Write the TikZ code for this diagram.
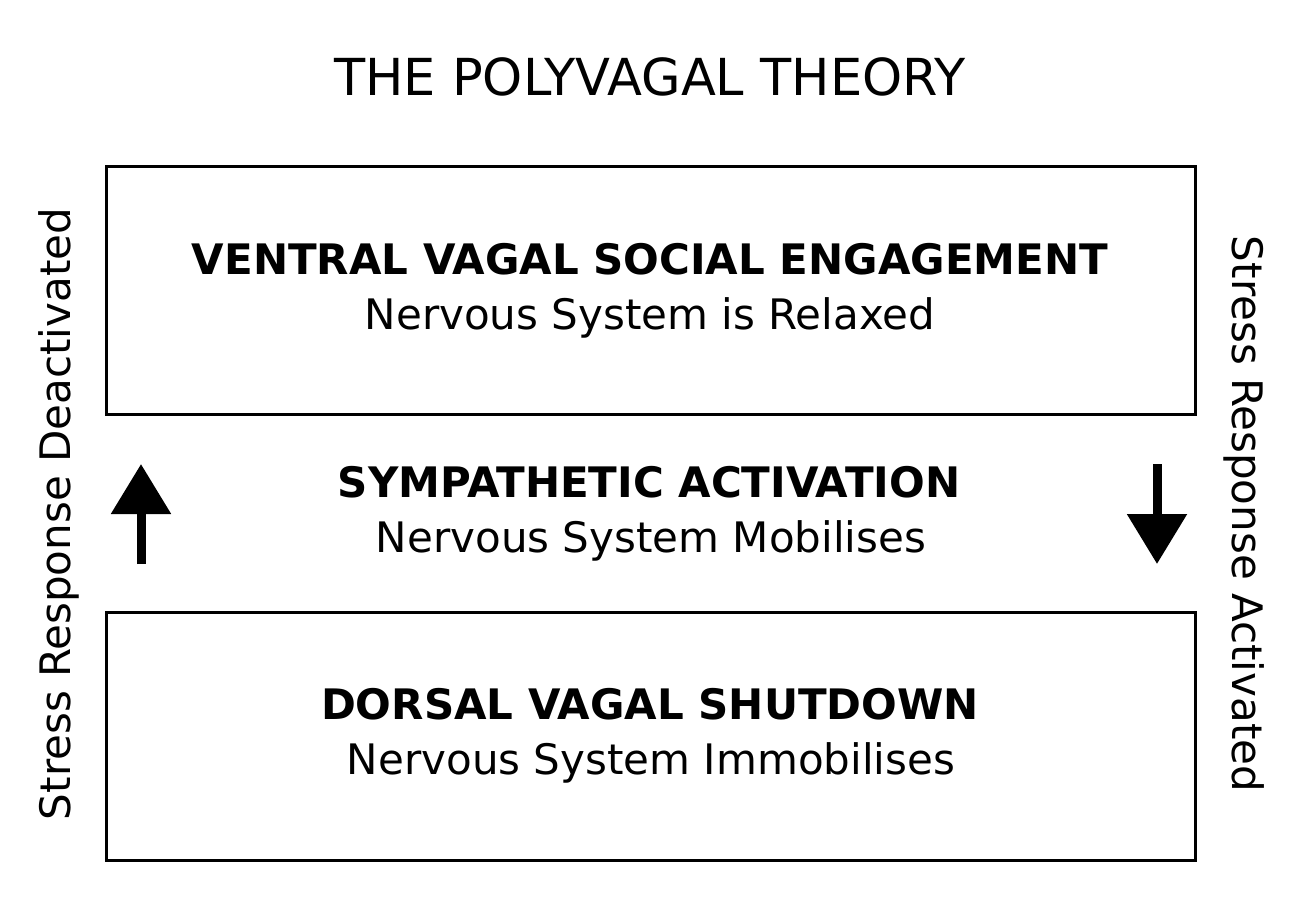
\documentclass[tikz,border=0pt]{standalone}
\usepackage{fontspec}
\setmainfont{DejaVu Sans}
\usepackage{tikz}
\usetikzlibrary{arrows.meta}
\tikzset{
  stateBox/.style={draw=black, line width=3pt, minimum width=1089pt, minimum height=248pt, inner sep=0pt},
  titleText/.style={anchor=base, font=\fontsize{51}{60}\selectfont},
  headText/.style={anchor=base, font=\fontsize{42}{50}\selectfont\bfseries},
  subText/.style={anchor=base, font=\fontsize{42}{50}\selectfont},
  sideText/.style={anchor=base, font=\fontsize{42}{50}\selectfont},
  stressArrow/.style={line width=9pt, -{Triangle[width=58pt, length=50pt]}}
}

\begin{document}
\begin{tikzpicture}[x=1pt, y=-1pt]
  \useasboundingbox (0,0) rectangle (1308,910);

  \node[titleText] (title) at (650,95) {THE POLYVAGAL THEORY};

  % the two state boxes
  \node[stateBox] (ventralBox) at (650.5,290) {};
  \node[stateBox] (dorsalBox) at (650.5,736) {};

  \node[headText] (ventral) at (650,274) {VENTRAL VAGAL SOCIAL ENGAGEMENT};
  \node[subText] (ventralSub) at (650,329) {Nervous System is Relaxed};

  \node[headText] (sympathetic) at (649,497) {SYMPATHETIC ACTIVATION};
  \node[subText] (sympatheticSub) at (651,552) {Nervous System Mobilises};

  \node[headText] (dorsal) at (650,719) {DORSAL VAGAL SHUTDOWN};
  \node[subText] (dorsalSub) at (651,774) {Nervous System Immobilises};

  % side labels
  \node[sideText, rotate=90] (deactivated) at (70,514) {Stress Response Deactivated};
  \node[sideText, rotate=-90] (activated) at (1232,514) {Stress Response Activated};

  % arrows
  \coordinate (upFoot) at (141,564);
  \coordinate (upHead) at (141,464);
  \coordinate (downFoot) at (1157,464);
  \coordinate (downHead) at (1157,564);
  \draw[stressArrow] (upFoot) -- (upHead);
  \draw[stressArrow] (downFoot) -- (downHead);
\end{tikzpicture}
\end{document}
